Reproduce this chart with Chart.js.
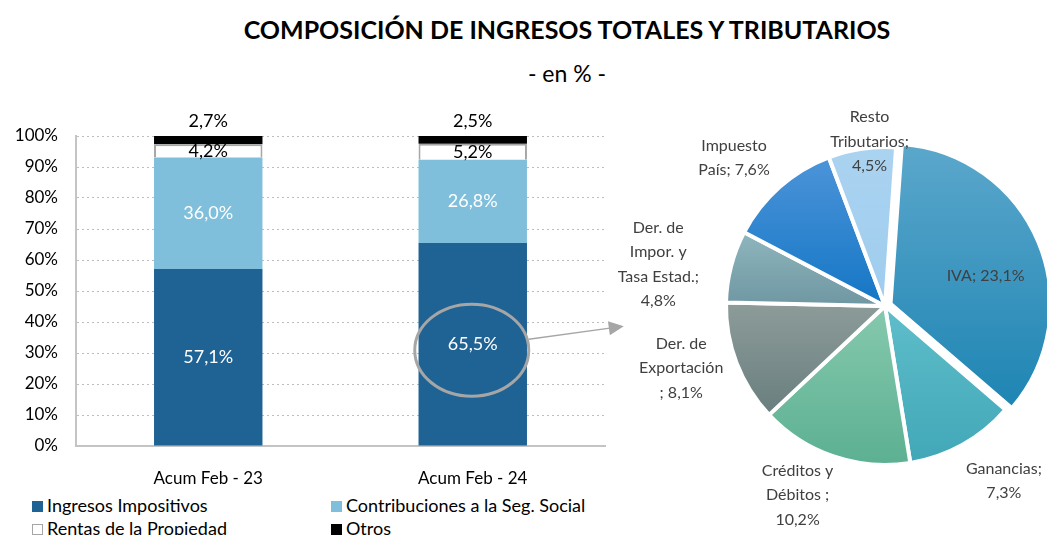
<!DOCTYPE html>
<html>
<head>
<meta charset="utf-8">
<script src="https://cdn.jsdelivr.net/npm/chart.js@4.4.1/dist/chart.umd.min.js"></script>
<style>
    body { margin: 0; width: 1047px; height: 535px; overflow: hidden; background: #fff; position: relative; font-family: Lato, sans-serif; }
    #title { position: absolute; left: 0; width: 1134px; top: 14px; text-align: center; font-weight: bold; font-size: 25px; color: #000; }
    #subtitle { position: absolute; left: 0; width: 1134px; top: 59px; text-align: center; font-size: 23px; color: #000; }
    #barChart { position: absolute; left: 0; top: 95px; }
    #pieChart { position: absolute; left: 600px; top: 100px; }
    .legend { position: absolute; font-size: 18px; color: #000; white-space: nowrap; line-height: 20px; }
    .legend span { display: inline-block; width: 11px; height: 11px; margin-right: 4px; vertical-align: 0px; box-sizing: border-box; }
</style>
</head>
<body>
<div id="title">COMPOSICIÓN DE INGRESOS TOTALES Y TRIBUTARIOS</div>
<div id="subtitle">- en % -</div>
<canvas id="barChart" width="650" height="395"></canvas>
<canvas id="pieChart" width="447" height="435"></canvas>
<div id="legend"></div>

<script>
// left chart: stacked 100% bars
const barCategories = ['Acum Feb - 23', 'Acum Feb - 24'];
const ingresosImpositivos = [57.1, 65.5];
const contribuciones = [36.0, 26.8];
const rentasPropiedad = [4.2, 5.2];
const otros = [2.7, 2.5];
const yTickValues = [0, 10, 20, 30, 40, 50, 60, 70, 80, 90, 100];

// right chart: composition of Ingresos Impositivos
const pieCategories = ['IVA', 'Ganancias', 'Créditos y Débitos', 'Der. de Exportación',
    'Der. de Impor. y Tasa Estad.', 'Impuesto País', 'Resto Tributarios'];
const pieValues = [23.1, 7.3, 10.2, 8.1, 4.8, 7.6, 4.5];
const pieLabelText = ['IVA; {v}', 'Ganancias;\n{v}', 'Créditos y\nDébitos ;\n{v}', 'Der. de\nExportación\n; {v}',
    'Der. de\nImpor. y\nTasa Estad.;\n{v}', 'Impuesto\nPaís; {v}', 'Resto\nTributarios;\n{v}'];

// styling
const pieGradients = [
    ['#5ba7cc', '#1e85b3'],
    ['#5fbeca', '#41a7b7'],
    ['#86c9ae', '#5cb092'],
    ['#8d9c99', '#697e7f'],
    ['#8fb6bd', '#6f97a2'],
    ['#4c94d9', '#1476c5'],
    ['#aad3f0', '#9fccee']
];
// label placement: [distance / radius, angle shift in degrees]
const pieLabelPlace = [[0.66, 6], [1.33, -5], [1.31, 6], [1.34, 4], [1.45, -4], [1.33, -4], [1.04, 3]];
const pieRotation = 4;
const pieRadius = 159;

Chart.defaults.font.family = 'Lato, sans-serif';
Chart.defaults.color = '#000';

const fmt = v => v.toFixed(1).replace('.', ',') + '%';

// legend (2 x 2 grid like the original)
const legendItems = [
    ['Ingresos Impositivos', '#1f6294', 'none', 32, 495],
    ['Contribuciones a la Seg. Social', '#7fbfdb', 'none', 331, 495],
    ['Rentas de la Propiedad', '#fff', '1px solid #a6a6a6', 32, 518],
    ['Otros', '#000', 'none', 331, 518]
];
document.getElementById('legend').innerHTML = legendItems.map(([t, c, b, x, y]) =>
    `<div class="legend" style="left:${x}px;top:${y}px"><span style="background:${c};border:${b}"></span>${t}</div>`).join('');

const barLabels = {
    id: 'barLabels',
    afterDatasetsDraw(chart) {
        const ctx = chart.ctx;
        ctx.save();
        ctx.font = '18px Lato, sans-serif';
        ctx.textAlign = 'center';
        ctx.textBaseline = 'middle';
        chart.data.datasets.forEach((ds, i) => {
            chart.getDatasetMeta(i).data.forEach((bar, j) => {
                let y = (bar.y + bar.base) / 2;
                if (i === 3) y = bar.y - 15;
                ctx.fillStyle = i < 2 ? '#fff' : '#000';
                ctx.fillText(fmt(ds.data[j]), bar.x, y);
            });
        });
        ctx.restore();
    },
    afterDraw(chart) {
        // highlight ellipse + arrow toward the pie
        const ctx = chart.ctx;
        const bar = chart.getDatasetMeta(0).data[1];
        const cx = bar.x - 1, cy = (bar.y + bar.base) / 2 + 6;
        const rx = 57, ry = 46;
        ctx.save();
        ctx.strokeStyle = '#a6a6a6';
        ctx.lineWidth = 3;
        ctx.beginPath();
        ctx.ellipse(cx, cy, rx, ry, 0, 0, Math.PI * 2);
        ctx.stroke();
        const x0 = cx + rx, y0 = cy - 11, x1 = cx + 152, y1 = cy - 24;
        const a = Math.atan2(y1 - y0, x1 - x0);
        ctx.lineWidth = 1.5;
        ctx.beginPath();
        ctx.moveTo(x0, y0);
        ctx.lineTo(x1 - 14 * Math.cos(a), y1 - 14 * Math.sin(a));
        ctx.stroke();
        ctx.fillStyle = '#a6a6a6';
        ctx.beginPath();
        ctx.moveTo(x1, y1);
        ctx.lineTo(x1 - 15 * Math.cos(a) + 7 * Math.sin(a), y1 - 15 * Math.sin(a) - 7 * Math.cos(a));
        ctx.lineTo(x1 - 15 * Math.cos(a) - 7 * Math.sin(a), y1 - 15 * Math.sin(a) + 7 * Math.cos(a));
        ctx.closePath();
        ctx.fill();
        ctx.restore();
    }
};

new Chart(document.getElementById('barChart'), {
    type: 'bar',
    data: {
        labels: barCategories,
        datasets: [
            { label: 'Ingresos Impositivos', data: ingresosImpositivos, backgroundColor: '#1f6294' },
            { label: 'Contribuciones a la Seg. Social', data: contribuciones, backgroundColor: '#7fbfdb' },
            { label: 'Rentas de la Propiedad', data: rentasPropiedad, backgroundColor: '#fff', borderColor: '#a6a6a6', borderWidth: 2 },
            { label: 'Otros', data: otros, backgroundColor: '#000' }
        ]
    },
    options: {
        responsive: false,
        animation: false,
        layout: { padding: { top: 41, right: 45, left: 0, bottom: 0 } },
        datasets: { bar: { categoryPercentage: 1, barPercentage: 0.41 } },
        scales: {
            x: {
                stacked: true,
                grid: { display: false },
                border: { display: true, color: '#c4c4c4', width: 2 },
                ticks: { font: { size: 17 }, padding: 14 },
                afterFit: s => { s.height = 44; }
            },
            y: {
                stacked: true,
                min: 0,
                max: 100,
                afterBuildTicks: s => { s.ticks = yTickValues.map(v => ({ value: v })); },
                ticks: { font: { size: 17 }, padding: 18, callback: v => v + '%' },
                grid: { color: '#bdbdbd', drawTicks: false },
                border: { display: true, color: '#c4c4c4', width: 2, dash: [2, 3] },
                afterFit: s => { s.width = 76; }
            }
        },
        plugins: {
            legend: { display: false },
            tooltip: { enabled: false }
        }
    },
    plugins: [barLabels]
});

// slice geometry helpers (same angles the pie uses)
function sliceAngles(i) {
    const total = pieValues.reduce((a, b) => a + b, 0);
    const before = pieValues.slice(0, i).reduce((a, b) => a + b, 0);
    const start = pieRotation + before / total * 360;
    return [start, start + pieValues[i] / total * 360];
}

function sliceGradient(context) {
    const chart = context.chart;
    const area = chart.chartArea;
    const i = context.dataIndex;
    if (!area || i === undefined) return pieGradients[0][0];
    const cy = (area.top + area.bottom) / 2;
    const [s, e] = sliceAngles(i);
    const ys = [cy];
    for (let a = s; a <= e; a += 2) ys.push(cy - pieRadius * Math.cos(a * Math.PI / 180));
    ys.push(cy - pieRadius * Math.cos(e * Math.PI / 180));
    const top = Math.min(...ys), bottom = Math.max(...ys);
    const g = chart.ctx.createLinearGradient(0, top, 0, bottom);
    g.addColorStop(0, pieGradients[i][0]);
    g.addColorStop(1, pieGradients[i][1]);
    return g;
}

const pieLabels = {
    id: 'pieLabels',
    afterDatasetsDraw(chart) {
        const ctx = chart.ctx;
        const area = chart.chartArea;
        const cx = (area.left + area.right) / 2, cy = (area.top + area.bottom) / 2;
        ctx.save();
        ctx.font = '16px Lato, sans-serif';
        ctx.fillStyle = '#404040';
        ctx.textAlign = 'center';
        ctx.textBaseline = 'middle';
        const lh = 24.5;
        pieValues.forEach((v, i) => {
            const [s, e] = sliceAngles(i);
            const a = ((s + e) / 2 + pieLabelPlace[i][1]) * Math.PI / 180;
            const d = pieRadius * pieLabelPlace[i][0];
            const x = cx + d * Math.sin(a), y = cy - d * Math.cos(a);
            const lines = pieLabelText[i].replace('{v}', fmt(v)).split('\n');
            lines.forEach((ln, k) => {
                ctx.fillText(ln, x, y + (k - (lines.length - 1) / 2) * lh);
            });
        });
        ctx.restore();
    }
};

new Chart(document.getElementById('pieChart'), {
    type: 'pie',
    data: {
        labels: pieCategories,
        datasets: [{
            data: pieValues,
            backgroundColor: sliceGradient,
            borderColor: '#fff',
            borderWidth: 4,
            offset: [24, 0, 0, 0, 0, 0, 0]
        }]
    },
    options: {
        responsive: false,
        animation: false,
        rotation: pieRotation,
        radius: pieRadius,
        layout: { padding: { left: 123, right: 0, top: 0, bottom: 23 } },
        plugins: {
            legend: { display: false },
            tooltip: { enabled: false }
        }
    },
    plugins: [pieLabels]
});
</script>
</body>
</html>
